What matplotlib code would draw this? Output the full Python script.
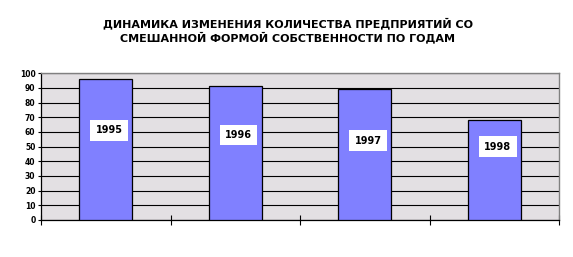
import matplotlib
matplotlib.use("Agg")
import matplotlib.pyplot as plt
import numpy as np

years = ["1995", "1996", "1997", "1998"]
values = [96, 91, 89, 68]
label_y = [61, 58, 54, 50]
yticks = list(range(0, 101, 10))
title = "ДИНАМИКА ИЗМЕНЕНИЯ КОЛИЧЕСТВА ПРЕДПРИЯТИЙ СО\nСМЕШАННОЙ ФОРМОЙ СОБСТВЕННОСТИ ПО ГОДАМ"

fig = plt.figure(figsize=(5.73, 2.57), dpi=100)
ax = fig.add_axes([0.0716, 0.144, 0.9044, 0.571])
ax.set_facecolor("#E3E0E3")

x = np.arange(len(years))
ax.bar(x, values, width=0.41, color="#8080FF", edgecolor="black", linewidth=0.9, zorder=3)
for xi, ly, yr in zip(x, label_y, years):
    ax.text(xi + 0.025, ly, yr, ha="center", va="center", fontsize=7, fontweight="bold",
            bbox=dict(boxstyle="square,pad=0.55", fc="white", ec="none"), zorder=4)

ax.set_xlim(-0.5, len(years) - 0.5)
ax.set_ylim(0, 100)
ax.set_yticks(yticks)
ax.set_yticklabels([str(v) for v in yticks], fontsize=5.5, fontweight="bold")
ax.yaxis.grid(True, color="black", linewidth=0.8, zorder=1)
ax.set_axisbelow(True)
ax.set_xticks(np.arange(-0.5, len(years), 1.0))
ax.set_xticklabels([])
ax.tick_params(axis="x", direction="inout", length=7, width=0.8)
ax.tick_params(axis="y", direction="out", length=2.5, width=0.8, pad=1.5)
for s in ["top", "right"]:
    ax.spines[s].set_color("#808080")
    ax.spines[s].set_linewidth(1.0)
for s in ["left", "bottom"]:
    ax.spines[s].set_color("black")
    ax.spines[s].set_linewidth(0.9)

fig.text(0.5025, 0.88, title, ha="center", va="center", fontsize=8, fontweight="bold",
         linespacing=1.25)

fig.savefig("out.png", dpi=100)
